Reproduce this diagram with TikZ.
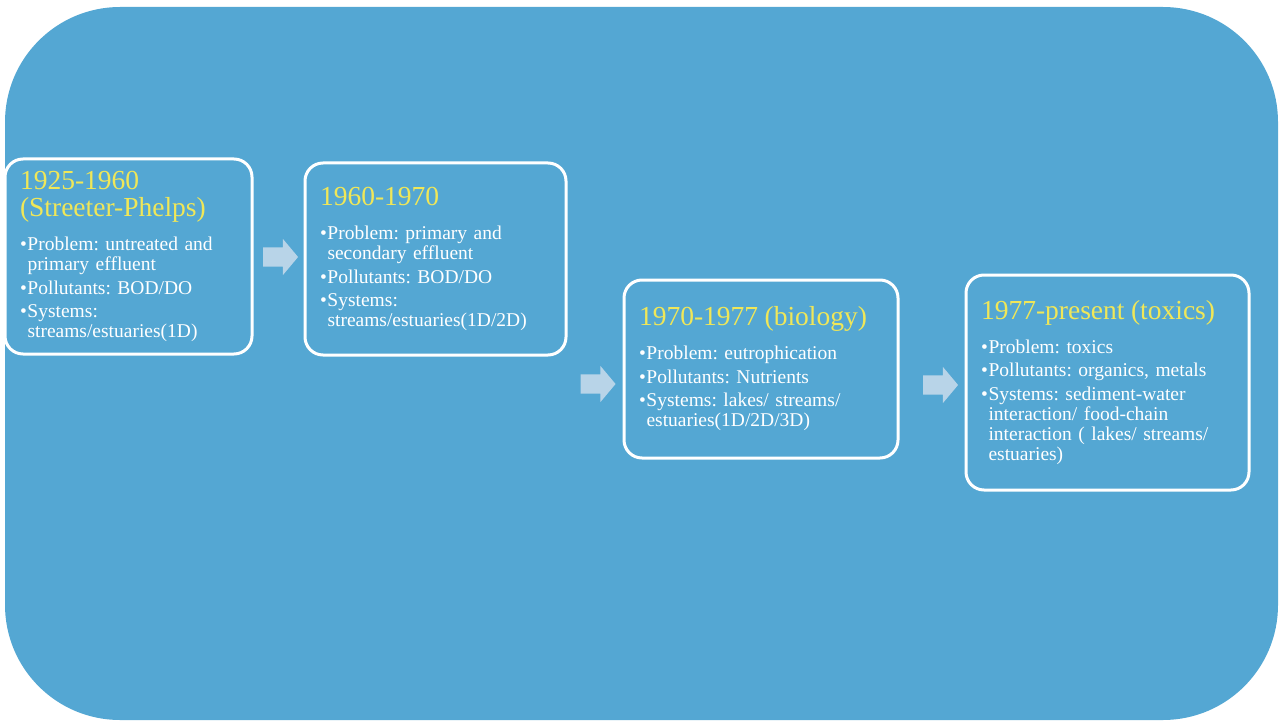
\documentclass[tikz,border=0pt]{standalone}
\usepackage{fontspec}
\setmainfont{Liberation Serif}
\usetikzlibrary{positioning,shapes.arrows}
\definecolor{panelblue}{RGB}{84,167,211}
\definecolor{arrowblue}{RGB}{184,212,232}
\definecolor{erayellow}{RGB}{240,231,88}
\frenchspacing

\newcommand{\eratitle}[1]{{\noindent\color{erayellow}\fontsize{27.5}{27}\selectfont #1\par}\vspace{10.5pt}}
\newcommand{\eraitem}[1]{\par\vspace{3.5pt}\hangindent=7.5pt\hangafter=1\noindent\makebox[7.5pt][l]{\textbullet}#1\par}

\begin{document}
\begin{tikzpicture}[
    x=1pt, y=-1pt,
    era/.style={draw=white, line width=3pt, rounded corners=18pt, text=white,
                align=left, inner xsep=15pt, inner ysep=6pt,
                font=\fontsize{19.5}{20}\selectfont},
    flow/.style={single arrow, fill=arrowblue, draw=none, inner xsep=0pt,
                 inner ysep=9.5pt, minimum width=36pt, minimum height=35pt,
                 single arrow head extend=8.5pt, single arrow tip angle=100}
]
\useasboundingbox (0,0) rectangle (1282,722);
\fill[panelblue, rounded corners=115pt] (5,7) rectangle (1278,720);

\node[era, minimum width=247pt, minimum height=195pt, text width=217pt] (streeter) at (128.5,256.5)
    {\eratitle{1925-1960\\(Streeter-Phelps)}%
     \eraitem{Problem: untreated and\newline primary effluent}%
     \eraitem{Pollutants: BOD/DO}%
     \eraitem{Systems:\newline streams/estuaries(1D)}};
\node[era, minimum width=261pt, minimum height=192pt, text width=231pt] (secondary) at (435.5,259)
    {\eratitle{1960-1970}%
     \eraitem{Problem: primary and\newline secondary effluent}%
     \eraitem{Pollutants: BOD/DO}%
     \eraitem{Systems:\newline streams/estuaries(1D/2D)}};
\node[era, minimum width=274pt, minimum height=178pt, text width=244pt] (biology) at (761,369)
    {\eratitle{1970-1977 (biology)}%
     \eraitem{Problem: eutrophication}%
     \eraitem{Pollutants: Nutrients}%
     \eraitem{Systems: lakes/ streams/\newline estuaries(1D/2D/3D)}};
\node[era, minimum width=283pt, minimum height=215pt, text width=253pt] (toxics) at (1107.5,382.5)
    {\eratitle{1977-present (toxics)}%
     \eraitem{Problem: toxics}%
     \eraitem{Pollutants: organics, metals}%
     \eraitem{Systems: sediment-water\newline interaction/ food-chain\newline interaction ( lakes/ streams/\newline estuaries)}};

% block arrows between the eras
\node[flow] (arrA) at (276.5,257) {};
\node[flow] (arrB) at (594,384) {};
\node[flow] (arrC) at (936.5,385) {};
\end{tikzpicture}
\end{document}
